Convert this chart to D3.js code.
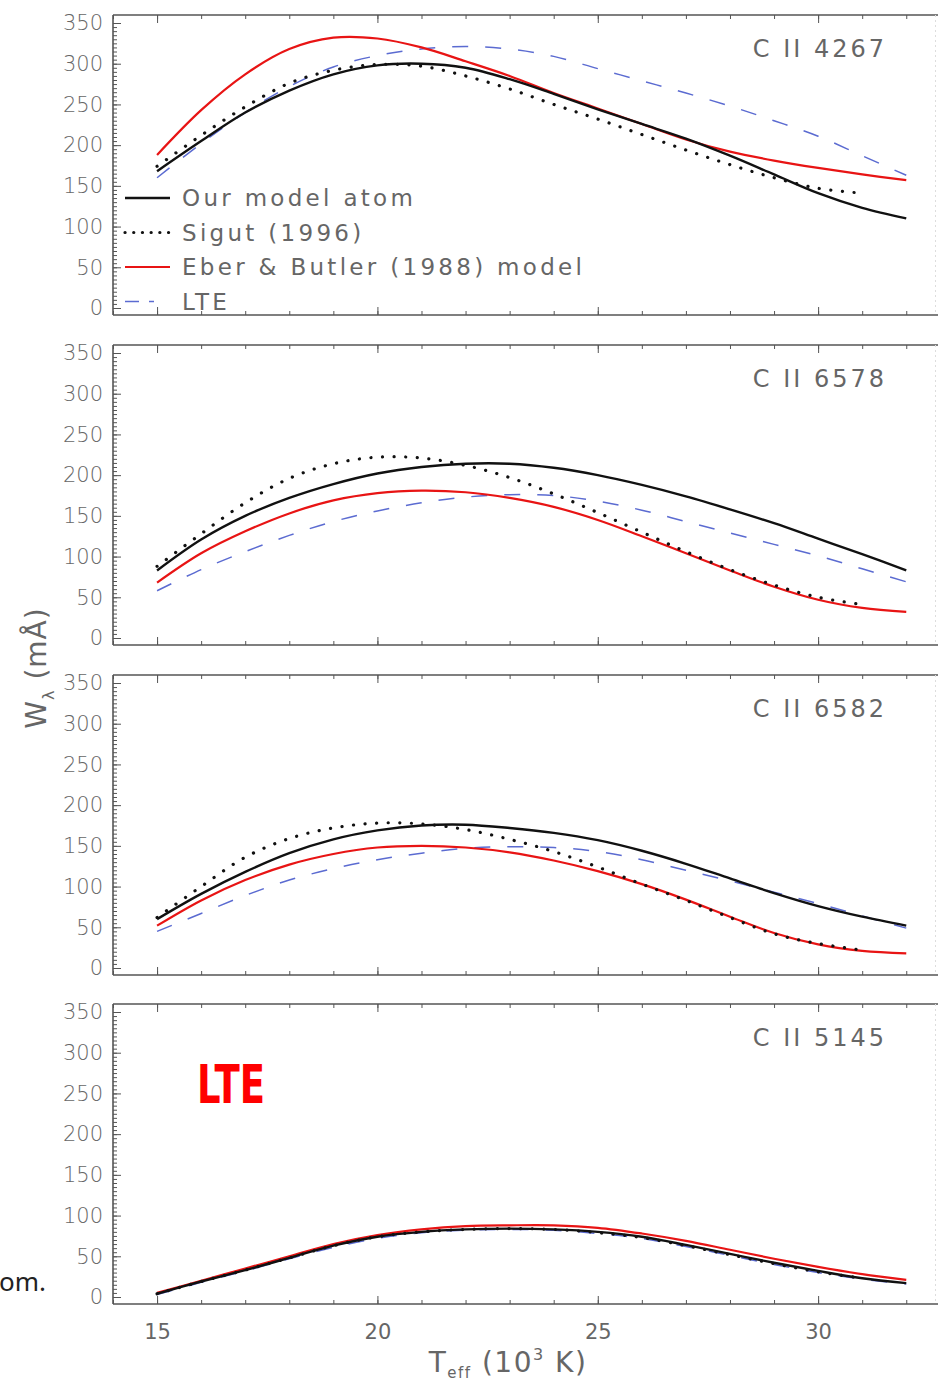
<!DOCTYPE html>
<html>
<head>
<meta charset="utf-8">
<script src="https://cdn.jsdelivr.net/npm/d3@7"></script>
<style>
  body { margin: 0; background: #fff; }
  svg text { font-family: "DejaVu Sans", sans-serif; }
</style>
</head>
<body>
<div id="chart"></div>
<script>
// temperatures (10^3 K) at which curves were read
const teff = [15, 16, 17, 18, 19, 20, 21, 22, 23, 24, 25, 26, 27, 28, 29, 30, 31, 32];
const teffSigut = teff.slice(0, 17); // Sigut ends at 31

const lines = ["C II 4267", "C II 6578", "C II 6582", "C II 5145"];

// equivalent widths (mA) per line
const ourModel = [
  [168, 205, 240, 267, 287, 298, 300, 295, 281, 263, 244, 226, 208, 187, 164, 141, 123, 110],
  [83, 121, 150, 172, 189, 202, 210, 214, 214, 209, 200, 188, 174, 158, 141, 122, 103, 83],
  [60, 91, 118, 141, 158, 169, 175, 176, 172, 166, 157, 144, 128, 110, 92, 76, 63, 52],
  [4, 19, 33, 48, 63, 74, 80, 83, 84, 83, 80, 74, 64, 53, 42, 32, 23, 17]
];
const sigut = [
  [174, 212, 247, 276, 292, 299, 297, 285, 269, 250, 232, 213, 194, 176, 160, 147, 141],
  [88, 128, 166, 196, 214, 222, 221, 212, 197, 177, 154, 130, 106, 84, 65, 50, 41],
  [62, 100, 136, 159, 172, 178, 177, 170, 158, 143, 124, 103, 83, 62, 42, 30, 22],
  [4, 19, 33, 48, 63, 74, 80, 83, 84, 83, 79, 73, 63, 52, 41, 31, 23]
];
const eberButler = [
  [188, 243, 287, 318, 332, 331, 320, 303, 285, 264, 245, 226, 207, 192, 181, 172, 164, 157],
  [68, 104, 131, 153, 169, 178, 181, 179, 172, 161, 145, 125, 104, 83, 63, 47, 37, 32],
  [52, 83, 108, 127, 140, 148, 150, 148, 142, 132, 119, 103, 84, 63, 43, 29, 21, 18],
  [5, 20, 35, 50, 65, 76, 83, 87, 88, 88, 85, 78, 69, 58, 47, 37, 28, 21]
];
const lte = [
  [160, 202, 240, 272, 296, 310, 318, 321, 318, 309, 294, 279, 264, 248, 230, 211, 187, 163],
  [58, 84, 106, 126, 143, 156, 166, 173, 176, 175, 168, 157, 143, 129, 115, 101, 85, 69],
  [45, 67, 89, 108, 122, 133, 141, 147, 149, 148, 143, 133, 120, 107, 93, 79, 64, 49],
  [3, 18, 32, 47, 61, 72, 79, 82, 83, 82, 78, 72, 62, 51, 40, 30, 22, 16]
];

const legendLabels = ["Our model atom", "Sigut (1996)", "Eber & Butler (1988) model", "LTE"];
const yTicks = [0, 50, 100, 150, 200, 250, 300, 350];
const xTicks = [15, 20, 25, 30];

const width = 938, height = 1383;
const left = 113, panelH = 300;
const panelTops = [15, 345, 675, 1004];

const svg = d3.select("#chart").append("svg")
  .attr("width", width).attr("height", height);

const x = d3.scaleLinear().domain([14, 33]).range([left, left + 19 * 44.07]);

const styles = [
  { key: "lte", color: "#5b6bd1", width: 1.5, dash: "16 17", legendDash: "14 10 5 30", cap: "butt" },
  { key: "eber", color: "#e81414", width: 2.2, dash: null, legendDash: null, cap: "butt" },
  { key: "sigut", color: "#111", width: 3.2, dash: "0.1 11.5", legendDash: "0.1 8.6", cap: "round" },
  { key: "ours", color: "#111", width: 2.4, dash: null, legendDash: null, cap: "butt" }
];

const grey = "#666";

panelTops.forEach((top, i) => {
  const y = d3.scaleLinear().domain([0, 350]).range([top + 293, top + 8]);
  const g = svg.append("g");

  // frame
  g.append("line").attr("x1", left).attr("x2", width).attr("y1", top).attr("y2", top)
    .attr("stroke", "#555").attr("stroke-width", 1.6);
  g.append("line").attr("x1", left).attr("x2", width).attr("y1", top + panelH).attr("y2", top + panelH)
    .attr("stroke", "#555").attr("stroke-width", 1.6);
  g.append("line").attr("x1", left).attr("x2", left).attr("y1", top).attr("y2", top + panelH)
    .attr("stroke", "#555").attr("stroke-width", 1.6);
  g.append("line").attr("x1", 935.5).attr("x2", 935.5).attr("y1", top).attr("y2", top + panelH)
    .attr("stroke", "#ddd").attr("stroke-width", 1).attr("stroke-dasharray", "2 3");

  // y axis, major + minor ticks inside
  const yMajor = g.append("g").attr("transform", `translate(${left},0)`)
    .call(d3.axisLeft(y).tickValues(yTicks).tickSize(-8).tickPadding(10).tickFormat(d3.format("d")));
  const yMinor = g.append("g").attr("transform", `translate(${left},0)`)
    .call(d3.axisLeft(y).tickValues(d3.range(0, 351, 5)).tickSize(-4).tickFormat(""));
  [yMajor, yMinor].forEach(a => {
    a.select(".domain").remove();
    a.selectAll("line").attr("stroke", "#555").attr("stroke-width", 1);
  });
  yMajor.selectAll("text").attr("fill", grey).style("font-size", "21px")
    .style("font-family", "'DejaVu Sans', sans-serif").style("font-weight", 300);

  // x ticks top and bottom
  const xb = g.append("g").attr("transform", `translate(0,${top + panelH})`)
    .call(d3.axisBottom(x).tickValues(xTicks).tickSize(-8).tickPadding(20)
      .tickFormat(i === 3 ? d3.format("d") : ""));
  const xbm = g.append("g").attr("transform", `translate(0,${top + panelH})`)
    .call(d3.axisBottom(x).tickValues(d3.range(14, 34)).tickSize(-4).tickFormat(""));
  const xt = g.append("g").attr("transform", `translate(0,${top})`)
    .call(d3.axisTop(x).tickValues(xTicks).tickSize(-8).tickFormat(""));
  const xtm = g.append("g").attr("transform", `translate(0,${top})`)
    .call(d3.axisTop(x).tickValues(d3.range(14, 34)).tickSize(-4).tickFormat(""));
  [xb, xbm, xt, xtm].forEach(a => {
    a.select(".domain").remove();
    a.selectAll("line").attr("stroke", "#555").attr("stroke-width", 1);
  });
  xb.selectAll("text").attr("fill", grey).style("font-size", "21px");

  // curves
  const line = d3.line().x(d => x(d[0])).y(d => y(d[1])).curve(d3.curveCatmullRom.alpha(0.5));
  const series = {
    lte: teff.map((t, k) => [t, lte[i][k]]),
    eber: teff.map((t, k) => [t, eberButler[i][k]]),
    sigut: teffSigut.map((t, k) => [t, sigut[i][k]]),
    ours: teff.map((t, k) => [t, ourModel[i][k]])
  };
  styles.forEach(s => {
    g.append("path").datum(series[s.key])
      .attr("d", line)
      .attr("fill", "none")
      .attr("stroke", s.color)
      .attr("stroke-width", s.width)
      .attr("stroke-linecap", s.cap)
      .attr("stroke-dasharray", s.dash);
  });

  // line label
  g.append("text").attr("x", 887).attr("y", top + 42)
    .attr("text-anchor", "end").attr("fill", grey)
    .style("font-size", "24px").style("letter-spacing", "3px")
    .text(lines[i]);
});

// legend in first panel
const legendOrder = ["ours", "sigut", "eber", "lte"];
legendOrder.forEach((key, k) => {
  const s = styles.find(d => d.key === key);
  const ly = 198 + k * 34.5;
  svg.append("line").attr("x1", 125).attr("x2", 170).attr("y1", ly).attr("y2", ly)
    .attr("stroke", s.color).attr("stroke-width", s.width)
    .attr("stroke-linecap", s.cap)
    .attr("stroke-dasharray", s.legendDash);
  svg.append("text").attr("x", 182).attr("y", ly + 8)
    .attr("fill", grey).style("font-size", "23px").style("letter-spacing", "3.3px")
    .text(legendLabels[k]);
});

// y axis title
const yt = svg.append("text")
  .attr("transform", "translate(46,668) rotate(-90)")
  .attr("text-anchor", "middle").attr("fill", grey)
  .style("font-size", "28px").style("letter-spacing", "1px");
yt.append("tspan").text("W");
yt.append("tspan").attr("dy", 8).style("font-size", "16px").text("λ");
yt.append("tspan").attr("dy", -8).text(" (mÅ)");

// x axis title
const xtl = svg.append("text")
  .attr("x", 508).attr("y", 1372)
  .attr("text-anchor", "middle").attr("fill", grey)
  .style("font-size", "28px").style("letter-spacing", "1.5px");
xtl.append("tspan").text("T");
xtl.append("tspan").attr("dy", 6).style("font-size", "15px").text("eff");
xtl.append("tspan").attr("dy", -6).text(" (10");
xtl.append("tspan").attr("dy", -12).style("font-size", "16px").text("3");
xtl.append("tspan").attr("dy", 12).text(" K)");

// red LTE tag in last panel
svg.append("text").attr("x", 197).attr("y", 1103)
  .attr("fill", "#f00")
  .attr("textLength", 68).attr("lengthAdjust", "spacingAndGlyphs")
  .style("font-family", "'DejaVu Sans', sans-serif")
  .style("font-weight", "bold").style("font-size", "53px")
  .text("LTE");

// caption fragment at left edge
svg.append("text").attr("x", -1).attr("y", 1291)
  .attr("fill", "#222")
  .style("font-family", "'Noto Sans', sans-serif").style("font-size", "26px")
  .text("om.");
</script>
</body>
</html>
